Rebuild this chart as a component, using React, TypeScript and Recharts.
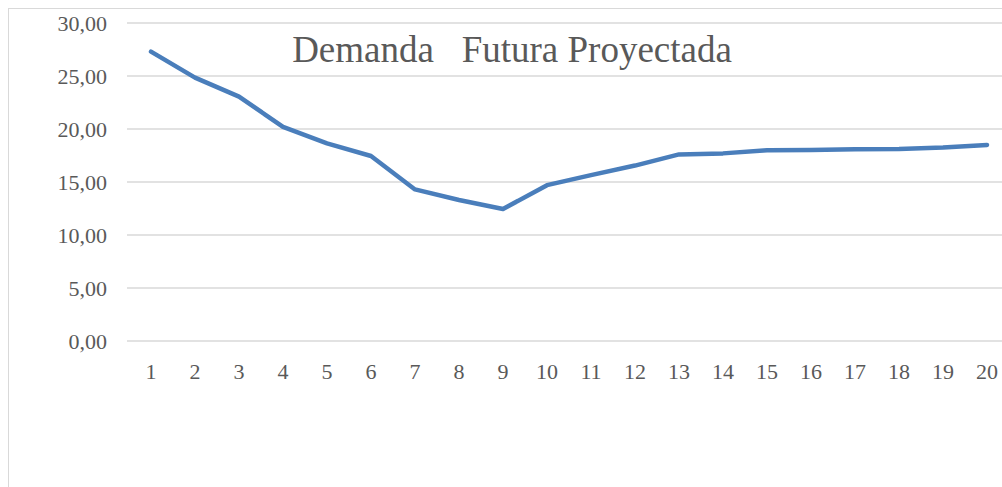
import React from "react";
import { LineChart, Line, XAxis, YAxis, CartesianGrid, Customized } from "recharts";

const periods = ["1","2","3","4","5","6","7","8","9","10","11","12","13","14","15","16","17","18","19","20"];
const demanda = [27.3, 24.85, 23.05, 20.2, 18.65, 17.45, 14.3, 13.3, 12.45, 14.7, 15.65, 16.55, 17.6, 17.7, 18.0, 18.02, 18.1, 18.12, 18.25, 18.5];
const yTicks = [0, 5, 10, 15, 20, 25, 30];
const title = "Demanda\u00a0\u00a0 Futura Proyectada";

const data = periods.map((p, i) => ({ periodo: p, demanda: demanda[i] }));

const FONT = "'Liberation Serif', 'Times New Roman', serif";
const GRAY = "#595959";

const Title = () => (
  <text x={503} y={53} textAnchor="middle" fontFamily={FONT} fontSize={37} fill={GRAY}>
    {title}
  </text>
);

export default function App() {
  return (
    <div
      style={{
        position: "fixed",
        left: 8,
        top: 8,
        width: 994,
        height: 479,
        overflow: "hidden",
        borderLeft: "1px solid #d9d9d9",
        borderTop: "1px solid #d9d9d9",
        boxSizing: "border-box",
        background: "#fff",
      }}
    >
      <LineChart
        width={1030}
        height={478}
        data={data}
        margin={{ top: 14, right: 32, bottom: 116, left: 0 }}
      >
        <CartesianGrid vertical={false} stroke="#d9d9d9" strokeWidth={1.3} />
        <XAxis
          dataKey="periodo"
          axisLine={false}
          tickLine={false}
          tickSize={0}
          tickMargin={22}
          height={30}
          interval={0}
          padding={{ left: 24, right: 20 }}
          tick={{ fill: GRAY, fontSize: 22, fontFamily: FONT }}
        />
        <YAxis
          width={118}
          domain={[0, 30]}
          ticks={yTicks}
          axisLine={false}
          tickLine={false}
          tickSize={0}
          tickMargin={20}
          tickFormatter={(v: number) => v.toFixed(2).replace(".", ",")}
          tick={{ fill: GRAY, fontSize: 22, fontFamily: FONT }}
        />
        <Line
          type="linear"
          dataKey="demanda"
          stroke="#4a7ebb"
          strokeWidth={4.5}
          strokeLinejoin="round"
          strokeLinecap="round"
          dot={false}
          activeDot={false}
          isAnimationActive={false}
        />
        <Customized component={Title} />
      </LineChart>
    </div>
  );
}
